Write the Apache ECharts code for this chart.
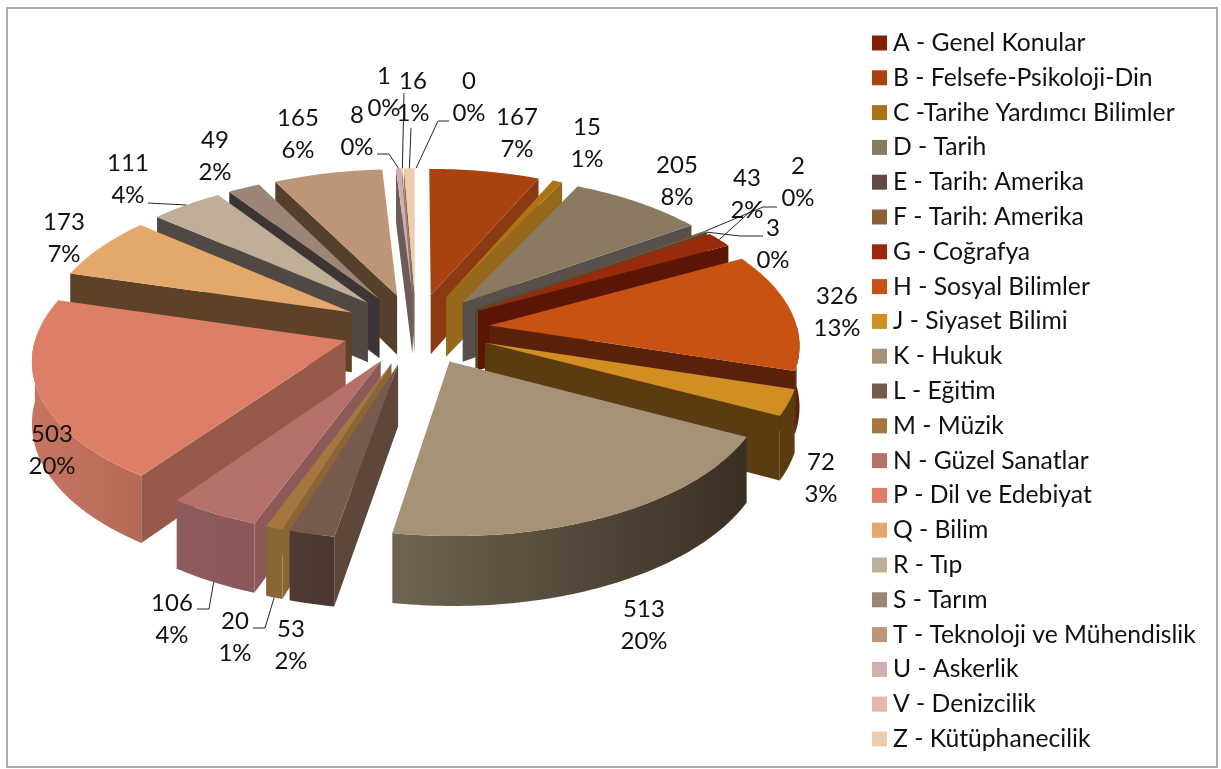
<!DOCTYPE html>
<html>
<head>
<meta charset="utf-8">
<style>
  html, body { margin: 0; padding: 0; background: #fff; }
  #chart { width: 1221px; height: 769px; }
</style>
<script src="https://cdn.jsdelivr.net/npm/echarts@6/dist/echarts.min.js"></script>
</head>
<body>
<div id="chart"></div>
<script>
var categories = [
  'A - Genel Konular', 'B - Felsefe-Psikoloji-Din', 'C -Tarihe Yardımcı Bilimler', 'D - Tarih',
  'E - Tarih: Amerika', 'F - Tarih: Amerika', 'G - Coğrafya', 'H - Sosyal Bilimler',
  'J - Siyaset Bilimi', 'K - Hukuk', 'L - Eğitim', 'M - Müzik', 'N - Güzel Sanatlar',
  'P - Dil ve Edebiyat', 'Q - Bilim', 'R - Tıp', 'S - Tarım', 'T - Teknoloji ve Mühendislik',
  'U - Askerlik', 'V - Denizcilik', 'Z - Kütüphanecilik'
]
var values = [0, 167, 15, 205, 2, 3, 43, 326, 72, 513, 53, 20, 106, 503, 173, 111, 49, 165, 8, 1, 16]

var topColors = [
  '#7f2106', '#a8420f', '#ad7417', '#8b7a62', '#624a42', '#8a6238', '#992a0c', '#c75212', '#d18e22', '#a69377',
  '#765a4e', '#a5763f', '#b5706a', '#dd7f67', '#e5a86b', '#bfae98', '#9b8579', '#bc9676', '#cfb0ac', '#e8b5a9', '#eecbac'
]
// colour of the cut face that looks at the viewer
var wallColors = [
  '#5a1505', '#8c3a12', '#96681c', '#57504a', '#4a3a34', '#5e4428', '#5a1505', '#5a2208', '#5a3c10', '#6b604e',
  '#5e463a', '#8a6535', '#8d5a5a', '#96594a', '#5e4228', '#4f4843', '#3d3434', '#55402c', '#6e5a58', '#7a6560', '#7e6a58'
]
// outer rim, left colour then right colour
var rimColors = [
  ['#5a1505', '#5a1505'], ['#8c3a12', '#8c3a12'], ['#96681c', '#96681c'], ['#57504a', '#57504a'],
  ['#4a3a34', '#4a3a34'], ['#5e4428', '#5e4428'], ['#5a1505', '#5a1505'], ['#5a2208', '#5a2208'],
  ['#5a3c10', '#5a3c10'], ['#6f6452', '#3a2f22'], ['#4e3a32', '#4a362e'], ['#8a6535', '#8a6535'],
  ['#8e5c5c', '#8a5858'], ['#c67560', '#b56a55'], ['#5e4228', '#5e4228'], ['#4f4843', '#4f4843'],
  ['#3d3434', '#3d3434'], ['#55402c', '#55402c'], ['#6e5a58', '#6e5a58'], ['#7a6560', '#7a6560'], ['#7e6a58', '#7e6a58']
]
// centre of each two line label
var labelSpots = [
  [469, 97], [517, 133], [587, 143], [677, 181], [798, 182], [773, 244], [747, 194], [837, 312], [821, 478], [644, 625],
  [291, 645], [235, 637], [172, 619], [52, 450], [64, 238], [128, 179], [215, 156], [298, 134], [357, 131], [384, 92], [413, 97]
]
// leader lines: the points on the label side, the last point comes from the slice
var leaderSpots = {
  0: [[449, 121], [438, 121]],
  4: [[777, 207], [763, 207]],
  5: [[763, 236], [740, 236]],
  6: [[762, 201]],
  11: [[253, 628], [265, 628]],
  12: [[197, 609], [209, 609]],
  15: [[148, 203]],
  18: [[377, 154], [389, 154]],
  19: [[404, 93]],
  20: [[411, 128]]
}

var total = values.reduce(function(a, b) { return a + b }, 0)
var centerX = 416
var centerY = 329
var radiusX = 308
var radiusY = 147.4
var perspective = 0.111
var thickness = 60.5
var explode = 0.24

function project(u, v) {
  var s = 1 / (1 + perspective * v)
  return [centerX + radiusX * u * s, centerY - radiusY * v * s, s]
}
function rad(deg) { return deg * Math.PI / 180 }

var slices = []
var sweep = 0
values.forEach(function(value) {
  var start = sweep
  sweep += value / total * 360
  var mid = (start + sweep) / 2
  slices.push({
    start: start,
    end: sweep,
    mid: mid,
    offU: explode * Math.sin(rad(mid)),
    offV: explode * Math.cos(rad(mid))
  })
})

function rimPoint(slice, deg) {
  return project(slice.offU + Math.sin(rad(deg)), slice.offV + Math.cos(rad(deg)))
}
function down(p) {
  return [p[0], p[1] + thickness * p[2]]
}
function wall(a, b, fill) {
  return {
    type: 'polygon',
    shape: { points: [[a[0], a[1]], [b[0], b[1]], down(b), down(a)] },
    style: { fill: fill }
  }
}

function renderSlice(i) {
  return function(params, api) {
    var value = api.value(0)
    var slice = slices[i]
    var apex = project(slice.offU, slice.offV)
    var children = []
    if (value > 0) {
      var steps = Math.max(2, Math.ceil(slice.end - slice.start))
      var from = Math.max(slice.start, 90)
      var to = Math.min(slice.end, 270)
      if (to > from) {
        var upper = []
        var lower = []
        for (var n = 0; n <= steps; n++) {
          var p = rimPoint(slice, from + (to - from) * n / steps)
          upper.push([p[0], p[1]])
          lower.unshift(down(p))
        }
        children.push({
          type: 'polygon',
          shape: { points: upper.concat(lower) },
          style: {
            fill: new echarts.graphic.LinearGradient(0, 0, 1, 0, [
              { offset: 0, color: rimColors[i][0] },
              { offset: 1, color: rimColors[i][1] }
            ])
          }
        })
      }
      if (slice.end < 180) {
        children.push(wall(apex, rimPoint(slice, slice.end), wallColors[i]))
      }
      if (slice.start > 180) {
        children.push(wall(apex, rimPoint(slice, slice.start), wallColors[i]))
      }
      var face = [[apex[0], apex[1]]]
      for (var m = 0; m <= steps; m++) {
        var q = rimPoint(slice, slice.start + (slice.end - slice.start) * m / steps)
        face.push([q[0], q[1]])
      }
      children.push({
        type: 'polygon',
        shape: { points: face },
        style: { fill: topColors[i] }
      })
    }
    if (leaderSpots[i]) {
      // front slices hang the leader on the bottom of the rim
      var tip = rimPoint(slice, slice.mid)
      var end = slice.mid > 90 && slice.mid < 270 ? down(tip) : tip
      children.push({
        type: 'polyline',
        shape: { points: leaderSpots[i].concat([[end[0], end[1]]]) },
        style: { fill: null, stroke: '#262626', lineWidth: 1 }
      })
    }
    children.push({
      type: 'text',
      style: {
        text: value + '\n' + Math.round(value / total * 100) + '%',
        x: labelSpots[i][0],
        y: labelSpots[i][1],
        align: 'center',
        verticalAlign: 'middle',
        fontFamily: 'Lato',
        fontSize: 24,
        lineHeight: 32,
        fill: '#111'
      }
    })
    return { type: 'group', children: children }
  }
}

// back slices first, the front ones paint over them
var paintOrder = slices.map(function(s, i) { return i }).sort(function(a, b) {
  return Math.cos(rad(slices[b].mid)) - Math.cos(rad(slices[a].mid))
})

var series = categories.map(function(name, i) {
  return {
    type: 'custom',
    name: name,
    coordinateSystem: 'none',
    z: 2 + paintOrder.indexOf(i),
    silent: true,
    clip: false,
    animation: false,
    itemStyle: { color: topColors[i] },
    renderItem: renderSlice(i),
    data: [values[i]]
  }
})

var chart = echarts.init(document.getElementById('chart'), null, { renderer: 'canvas' })
chart.setOption({
  animation: false,
  backgroundColor: '#fff',
  graphic: [{
    type: 'rect',
    z: 0,
    shape: { x: 7, y: 8, width: 1210, height: 759 },
    style: { fill: '#fff', stroke: '#adadad', lineWidth: 2 }
  }],
  legend: {
    orient: 'vertical',
    left: 867,
    top: 24,
    icon: 'rect',
    itemWidth: 15,
    itemHeight: 15,
    itemGap: 6.8,
    selectedMode: false,
    data: categories,
    textStyle: { fontFamily: 'Lato', fontSize: 24.7, lineHeight: 28, color: '#111', padding: [0, 0, 0, 1] }
  },
  series: series
})
</script>
</body>
</html>
